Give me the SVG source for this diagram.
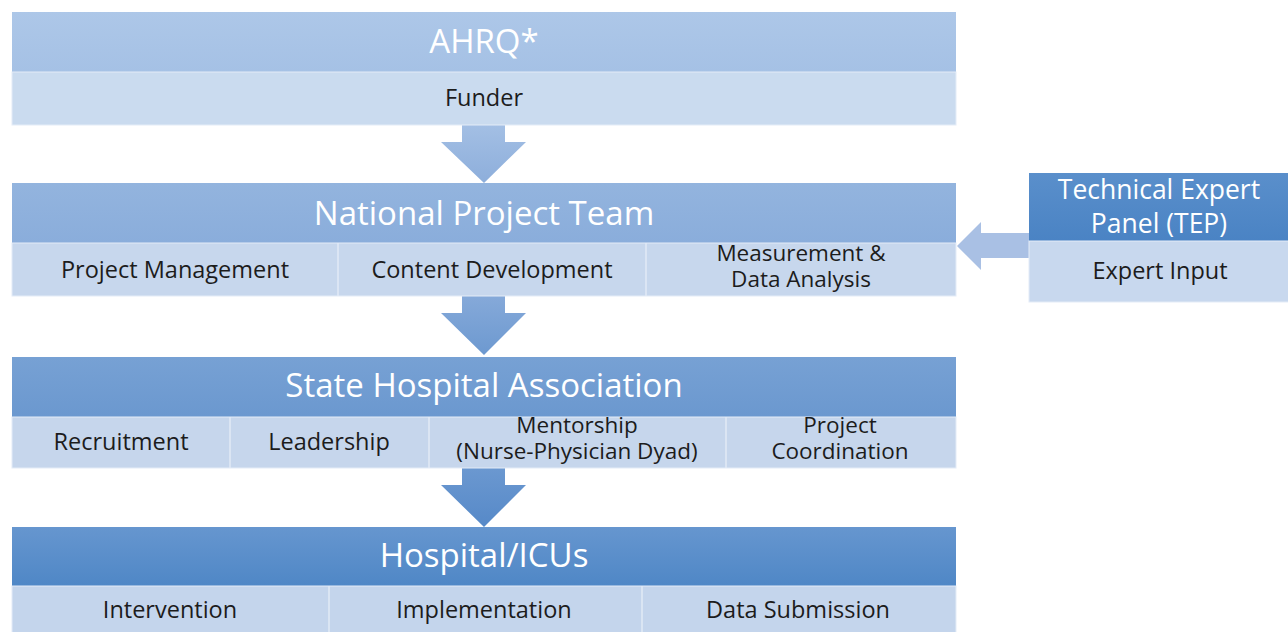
<svg xmlns="http://www.w3.org/2000/svg" width="1288" height="632" viewBox="0 0 1288 632">
<defs>
<style>
.title{font-family:"Open Sans","Liberation Sans",sans-serif;font-size:33px;fill:#ffffff;text-anchor:middle}
.ttl2{font-family:"Open Sans","Liberation Sans",sans-serif;font-size:26.5px;fill:#ffffff;text-anchor:middle}
.lbl{font-family:"Open Sans","Liberation Sans",sans-serif;font-size:23.5px;fill:#1c1c1c;text-anchor:middle}
.lbl2{font-family:"Open Sans","Liberation Sans",sans-serif;font-size:22.5px;fill:#1c1c1c;text-anchor:middle}
.sub{stroke:#e4ecf7;stroke-width:1}
.div{stroke:#e2eaf6;stroke-width:1.5}
</style>
<linearGradient id="h1" x1="0" y1="0" x2="0" y2="1"><stop offset="0" stop-color="#adc7e8"/><stop offset="1" stop-color="#a5c1e5"/></linearGradient>
<linearGradient id="h2" x1="0" y1="0" x2="0" y2="1"><stop offset="0" stop-color="#93b4de"/><stop offset="1" stop-color="#8aaddb"/></linearGradient>
<linearGradient id="h3" x1="0" y1="0" x2="0" y2="1"><stop offset="0" stop-color="#77a1d4"/><stop offset="1" stop-color="#6b98cf"/></linearGradient>
<linearGradient id="h4" x1="0" y1="0" x2="0" y2="1"><stop offset="0" stop-color="#6696cf"/><stop offset="1" stop-color="#4f87c6"/></linearGradient>
<linearGradient id="h5" x1="0" y1="0" x2="0" y2="1"><stop offset="0" stop-color="#5a8fcb"/><stop offset="1" stop-color="#4a83c4"/></linearGradient>
<linearGradient id="a1" x1="0" y1="0" x2="0" y2="1"><stop offset="0" stop-color="#a3bfe4"/><stop offset="1" stop-color="#8daedb"/></linearGradient>
<linearGradient id="a2" x1="0" y1="0" x2="0" y2="1"><stop offset="0" stop-color="#85a9d9"/><stop offset="1" stop-color="#6d99d0"/></linearGradient>
<linearGradient id="a3" x1="0" y1="0" x2="0" y2="1"><stop offset="0" stop-color="#6b98d0"/><stop offset="1" stop-color="#5689c8"/></linearGradient>
</defs>
<rect width="1288" height="632" fill="#ffffff"/>

<g id="connectors">
<polygon points="462,125 505,125 505,142 526,142 484,183 441,142 462,142" fill="url(#a1)"/>
<polygon points="462,296 505,296 505,313 526,313 484,355 441,313 462,313" fill="url(#a2)"/>
<polygon points="462,468 505,468 505,485 526,485 484,527 441,485 462,485" fill="url(#a3)"/>
<polygon points="1029,233 981,233 981,222 957,246 981,270 981,258 1029,258" fill="#a9c0e4"/>
</g>

<g id="ahrq">
<rect x="12" y="12" width="944" height="60" fill="url(#h1)"/>
<rect x="12" y="72" width="944" height="53" fill="#cadbef" class="sub"/>
<text class="title" x="484" y="53">AHRQ*</text>
<text class="lbl" x="484" y="106">Funder</text>
</g>

<g id="national">
<rect x="12" y="183" width="944" height="60" fill="url(#h2)"/>
<rect x="12" y="243" width="944" height="53" fill="#c7d7ed" class="sub"/>
<line class="div" x1="338" y1="243" x2="338" y2="296"/>
<line class="div" x1="646" y1="243" x2="646" y2="296"/>
<text class="title" x="484" y="225">National Project Team</text>
<text class="lbl" x="175" y="278">Project Management</text>
<text class="lbl" x="492" y="278">Content Development</text>
<text class="lbl2" x="801" y="261">Measurement &amp;</text>
<text class="lbl2" x="801" y="287">Data Analysis</text>
</g>

<g id="state">
<rect x="12" y="357" width="944" height="60" fill="url(#h3)"/>
<rect x="12" y="417" width="944" height="51" fill="#c6d6ec" class="sub"/>
<line class="div" x1="230" y1="417" x2="230" y2="468"/>
<line class="div" x1="429" y1="417" x2="429" y2="468"/>
<line class="div" x1="726" y1="417" x2="726" y2="468"/>
<text class="title" x="484" y="397">State Hospital Association</text>
<text class="lbl" x="121" y="450">Recruitment</text>
<text class="lbl" x="329" y="450">Leadership</text>
<text class="lbl2" x="577" y="433">Mentorship</text>
<text class="lbl2" x="577" y="459">(Nurse-Physician Dyad)</text>
<text class="lbl2" x="840" y="433">Project</text>
<text class="lbl2" x="840" y="459">Coordination</text>
</g>

<g id="hospital">
<rect x="12" y="527" width="944" height="59" fill="url(#h4)"/>
<rect x="12" y="586" width="944" height="50" fill="#c4d5ec" class="sub"/>
<line class="div" x1="329" y1="586" x2="329" y2="632"/>
<line class="div" x1="642" y1="586" x2="642" y2="632"/>
<text class="title" x="484" y="567">Hospital/ICUs</text>
<text class="lbl" x="170" y="618">Intervention</text>
<text class="lbl" x="484" y="618">Implementation</text>
<text class="lbl" x="798" y="618">Data Submission</text>
</g>

<g id="tep">
<rect x="1029" y="173" width="262" height="68" fill="url(#h5)"/>
<rect x="1029" y="241" width="262" height="61" fill="#c8d8ee" class="sub"/>
<text class="ttl2" x="1159" y="199">Technical Expert</text>
<text class="ttl2" x="1159" y="233">Panel (TEP)</text>
<text class="lbl" x="1160" y="279">Expert Input</text>
</g>
</svg>
